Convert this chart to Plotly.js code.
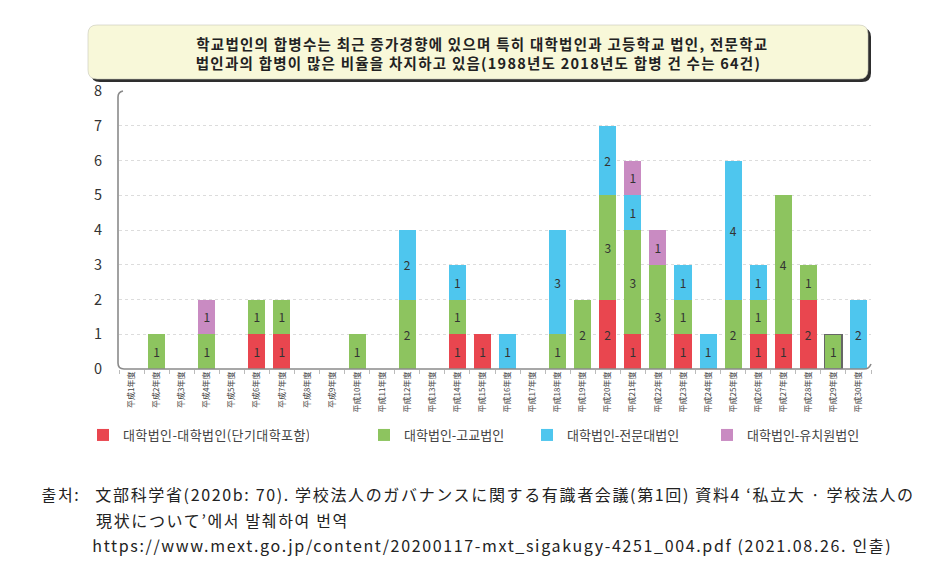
<!DOCTYPE html>
<html>
<head>
<meta charset="utf-8">
<script src="https://cdn.plot.ly/plotly-3.0.1.min.js"></script>
<style>
html,body{margin:0;padding:0;background:#fff;}
#chart{width:943px;height:575px;}
#chart .annotation[data-index="0"] text, #chart .annotation[data-index="1"] text{letter-spacing:1.25px;}
#chart .annotation[data-index="2"] text, #chart .annotation[data-index="3"] text, #chart .annotation[data-index="4"] text, #chart .annotation[data-index="5"] text{letter-spacing:1.65px;}
#chart .legendtext{letter-spacing:0.4px;}
</style>
</head>
<body>
<div id="chart"></div>
<script>
const categories = ['平成1年度','平成2年度','平成3年度','平成4年度','平成5年度','平成6年度','平成7年度','平成8年度','平成9年度','平成10年度',
  '平成11年度','平成12年度','平成13年度','平成14年度','平成15年度','平成16年度','平成17年度','平成18年度','平成19年度','平成20年度',
  '平成21年度','平成22年度','平成23年度','平成24年度','平成25年度','平成26年度','平成27年度','平成28年度','平成29年度','平成30年度'];
const seriesNames = ['대학법인-대학법인(단기대학포함)','대학법인-고교법인','대학법인-전문대법인','대학법인-유치원법인'];
const univUniv     = [0,0,0,0,0,1,1,0,0,0, 0,0,0,1,1,0,0,0,0,2, 1,0,1,0,0,1,1,2,0,0];
const univHigh     = [0,1,0,1,0,1,1,0,0,1, 0,2,0,1,0,0,0,1,2,3, 3,3,1,0,2,1,4,1,1,0];
const univCollege  = [0,0,0,0,0,0,0,0,0,0, 0,2,0,1,0,1,0,3,0,2, 1,0,1,1,4,1,0,0,0,2];
const univKinder   = [0,0,0,1,0,0,0,0,0,0, 0,0,0,0,0,0,0,0,0,0, 1,1,0,0,0,0,0,0,0,0];
const yTicks = [0,1,2,3,4,5,6,7,8];
const titleLines = ['학교법인의 합병수는 최근 증가경향에 있으며 특히 대학법인과 고등학교 법인, 전문학교',
  '법인과의 합병이 많은 비율을 차지하고 있음(1988년도 2018년도 합병 건 수는 64건)'];
const sourceLabel = '출처:';
const sourceLines = ['文部科学省(2020b: 70). 学校法人のガバナンスに関する有識者会議(第1回) 資料4 ‘私立大 · 学校法人の',
  '現状について’에서 발췌하여 번역',
  'https://www.mext.go.jp/content/20200117-mxt_sigakugy-4251_004.pdf (2021.08.26. 인출)'];

const W = 943, H = 575;
const M = {l:119, r:72, t:91, b:206};
const PW = W - M.l - M.r, PH = H - M.t - M.b;
const px = x => (x - M.l) / PW;
const py = y => (H - M.b - y) / PH;
const FONT = '"Noto Sans CJK KR", "Noto Sans", sans-serif';
const colors = ['#E9464F','#8DC45F','#4EC6EE','#C98BC2'];
const allSeries = [univUniv, univHigh, univCollege, univKinder];
const legends = ['legend','legend2','legend3','legend4'];

const traces = allSeries.map((vals, i) => {
  const t = {
    type:'bar', x: categories, y: vals, name: seriesNames[i],
    marker:{color: colors[i], line:{width:0}},
    text: vals.map(v => v ? String(v) : ''),
    textposition:'inside', insidetextanchor:'middle', textangle:0,
    constraintext:'none',
    textfont:{family:FONT, size:12, color:'#333'},
    hoverinfo:'x+y+name', legend: legends[i]
  };
  if (i === 1) {
    t.marker.line = {color: vals.map((v, k) => k === 28 ? '#666' : colors[1]), width: vals.map((v, k) => k === 28 ? 1.2 : 0)};
  }
  return t;
});

function rrect(x0, y0, x1, y1, r) {
  return `M${px(x0+r)},${py(y0)} L${px(x1-r)},${py(y0)} Q${px(x1)},${py(y0)} ${px(x1)},${py(y0+r)} L${px(x1)},${py(y1-r)} Q${px(x1)},${py(y1)} ${px(x1-r)},${py(y1)} L${px(x0+r)},${py(y1)} Q${px(x0)},${py(y1)} ${px(x0)},${py(y1-r)} L${px(x0)},${py(y0+r)} Q${px(x0)},${py(y0)} ${px(x0+r)},${py(y0)} Z`;
}
const axisPath = `M${px(123)},${py(91)} Q${px(118)},${py(92)} ${px(118)},${py(97)} L${px(118)},${py(363)} Q${px(118)},${py(369)} ${px(124)},${py(369)} L${px(864)},${py(369)} Q${px(869)},${py(369)} ${px(871)},${py(364)}`;

const legendBase = (xpx) => ({
  orientation:'h', xref:'container', yref:'container', x: xpx / W, y: 1 - 435 / H,
  xanchor:'left', yanchor:'middle', bgcolor:'rgba(0,0,0,0)', borderwidth:0,
  font:{family:FONT, size:13, color:'#444'}, itemwidth:30
});

const ann = (text, cx, cy, size) => ({xref:'paper', yref:'paper', x: px(cx), y: py(cy), xanchor:'center', yanchor:'middle',
  showarrow:false, text: text, font:{family:FONT, size: size, color:'#222'}});
const sourceCenters = [505, 222, 492.5];

const layout = {
  width: W, height: H, margin: M,
  paper_bgcolor:'#fff', plot_bgcolor:'#fff',
  barmode:'stack', bargap:0.32,
  showlegend:true,
  legend: legendBase(83), legend2: legendBase(364), legend3: legendBase(527), legend4: legendBase(707),
  font:{family:FONT, color:'#333'},
  xaxis:{type:'category', range:[-0.5, 29.5], showline:false, showgrid:false, zeroline:false,
    tickangle:-90, tickfont:{family:FONT, size:8, color:'#444'},
    ticks:'outside', tickson:'boundaries', ticklen:4, tickcolor:'#bbb', tickwidth:1, fixedrange:true},
  yaxis:{range:[0, 8], tickvals: yTicks, showline:false, zeroline:false,
    showgrid:true, gridcolor:'#dcdcdc', griddash:'dot', gridwidth:1,
    ticks:'', ticklabelstandoff:16, tickfont:{family:FONT, size:14.5, color:'#333'}, fixedrange:true},
  shapes:[
    {type:'path', xref:'paper', yref:'paper', path: rrect(91, 28, 871, 82, 9), fillcolor:'#2e2e2e', line:{width:0}, layer:'below'},
    {type:'path', xref:'paper', yref:'paper', path: rrect(88, 25, 868, 79, 9), fillcolor:'#F8F8D9', line:{color:'#c8c8b8', width:0.6}, layer:'below'},
    {type:'path', xref:'paper', yref:'paper', path: axisPath, line:{color:'#8a8a8a', width:1.6}, layer:'above'}
  ],
  annotations:[
    ann('<b>' + titleLines[0] + '</b>', 482, 44, 14.5),
    ann('<b>' + titleLines[1] + '</b>', 478, 63, 14.5),
    ann(sourceLabel, 61, 494, 16),
    ...sourceLines.map((s, i) => ann(s, sourceCenters[i], 494 + i*25.5, 16))
  ]
};

Plotly.newPlot('chart', traces, layout, {displayModeBar:false});
</script>
</body>
</html>
